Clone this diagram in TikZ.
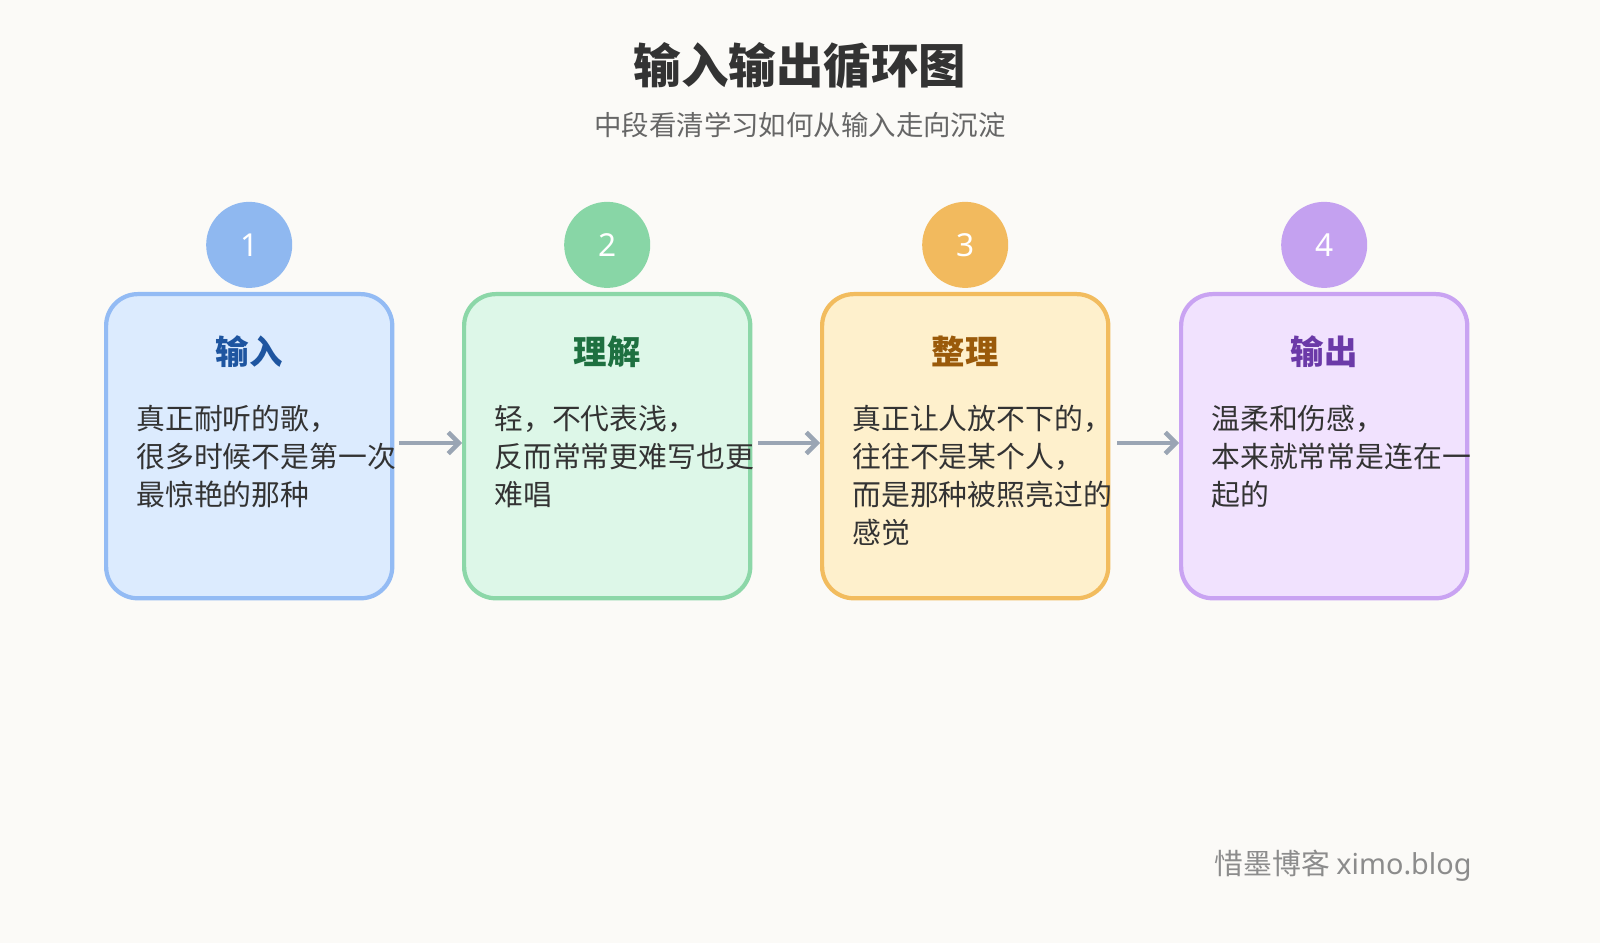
\documentclass[tikz,border=0pt]{standalone}
\usepackage{fontspec}
\usetikzlibrary{arrows.meta}
\setmainfont{Noto Sans CJK SC}
\newfontfamily\latn{Noto Sans}
\begin{document}
\begin{tikzpicture}[x=0.01cm,y=-0.01cm]
\definecolor{bg}{HTML}{FBFAF7}
\definecolor{txt}{HTML}{333333}
\definecolor{arr}{HTML}{9AA5B4}
\definecolor{fa}{HTML}{DCEBFE}\definecolor{da}{HTML}{93BBF4}\definecolor{ca}{HTML}{8FB8F0}\definecolor{ta}{HTML}{1E55A0}
\definecolor{fb}{HTML}{DDF7E8}\definecolor{db}{HTML}{8CD7A8}\definecolor{cb}{HTML}{88D6A6}\definecolor{tb}{HTML}{1E7040}
\definecolor{fc}{HTML}{FEF0CC}\definecolor{dc}{HTML}{F2BC5E}\definecolor{cc}{HTML}{F2BA5E}\definecolor{tc}{HTML}{9A5A0A}
\definecolor{fd}{HTML}{F1E2FE}\definecolor{dd}{HTML}{C9A3F2}\definecolor{cd}{HTML}{C4A1F0}\definecolor{td}{HTML}{6B3AA8}
\tikzset{
 card/.style={draw=#1,line width=1.2pt,rounded corners=9pt,minimum width=2.86cm,minimum height=3.04cm,anchor=north west},
 numc/.style={circle,fill=#1,minimum size=0.86cm,inner sep=0pt,text=white,font=\latn\fontsize{9}{10}\selectfont},
 ttl/.style={font=\fontsize{9.5}{11}\selectfont\bfseries,text=#1},
 body/.style={anchor=north west,align=left,inner sep=0pt,text=txt,font=\fontsize{8.2}{10.8}\selectfont},
 flow/.style={draw=arr,line width=1.3pt,-{Straight Barb[length=3pt]}}
}
\fill[bg] (0,0) rectangle (1600,943);
\useasboundingbox (0,0) rectangle (1600,943);
\node[font=\fontsize{13.5}{15}\selectfont\bfseries,text=txt] (title) at (800,66) {输入输出循环图};
\node[font=\fontsize{7.8}{9}\selectfont,text=black!60] (sub) at (800,125) {中段看清学习如何从输入走向沉淀};
\foreach \i/\x/\f/\d/\c/\t/\n/\h/\b in {
 1/104/fa/da/ca/ta/1/输入/{真正耐听的歌，\\很多时候不是第一次\\最惊艳的那种},
 2/462/fb/db/cb/tb/2/理解/{轻，不代表浅，\\反而常常更难写也更\\难唱},
 3/820/fc/dc/cc/tc/3/整理/{真正让人放不下的，\\往往不是某个人，\\而是那种被照亮过的\\感觉},
 4/1179/fd/dd/cd/td/4/输出/{温柔和伤感，\\本来就常常是连在一\\起的}}{
 \node[card=\d,fill=\f] (box\i) at (\x,292) {};
 \node[numc=\c] (num\i) at ([yshift=13.4pt]box\i.north) {\n};
 \node[ttl=\t] (t\i) at ([yshift=-17pt]box\i.north) {\h};
 \node[body] (b\i) at ([xshift=9pt,yshift=-32pt]box\i.north west) {\b};
}
\coordinate (a1) at (399,443);\coordinate (a2) at (758,443);\coordinate (a3) at (1117,443);
\draw[flow] (a1) -- (box2.west|-a1);
\draw[flow] (a2) -- (box3.west|-a2);
\draw[flow] (a3) -- (box4.west|-a3);
\node[anchor=east,font=\fontsize{8.2}{9}\selectfont,text=black!45] (foot) at (1484,866) {惜墨博客 {\latn ximo.blog}};
\end{tikzpicture}
\end{document}
